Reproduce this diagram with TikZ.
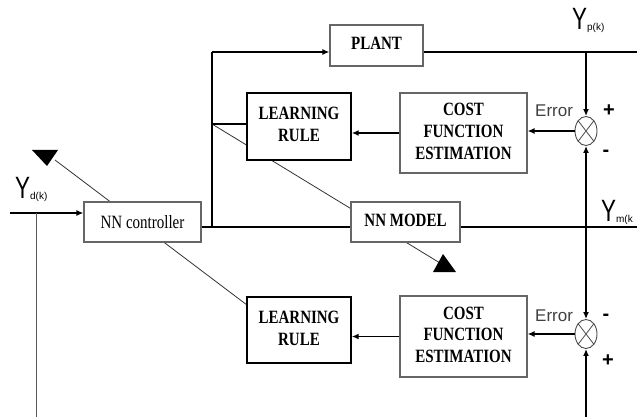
\documentclass[tikz,border=0pt]{standalone}
\usepackage{fontspec}
\setmainfont{Liberation Serif}
\setsansfont{Liberation Sans}
\usetikzlibrary{arrows.meta,backgrounds,shapes.geometric}
\newcommand{\blbl}[1]{\scalebox{1}[1.25]{\fontsize{15}{17.5}\selectfont\bfseries\begin{tabular}{@{}c@{}}#1\end{tabular}}}
\newcommand{\ylbl}[2]{\scalebox{0.8}[1.1]{\fontsize{28}{30}\selectfont\sffamily Y}\raisebox{-1pt}{\fontsize{10}{11}\selectfont\sffamily #2}}
\begin{document}
\begin{tikzpicture}[x=1pt,y=-1pt,
  graybox/.style={draw=black!60, line width=1.1pt, fill=white, inner sep=0pt},
  blackbox/.style={draw=black, line width=1.4pt, fill=white, inner sep=0pt},
  sumnode/.style={ellipse, draw=black!70, line width=0.9pt, fill=white, minimum width=22pt, minimum height=29pt, inner sep=0pt},
  sig/.style={line width=1.5pt},
  bus/.style={line width=2.6pt},
  thinline/.style={line width=0.9pt, black!65},
  arr/.style={-{Latex[length=7pt,width=6pt]}},
  diag/.style={line width=0.8pt, black!80},
  lab/.style={inner sep=0pt, anchor=west},
  pm/.style={inner sep=0pt, font=\fontsize{20}{20}\selectfont\sffamily\bfseries}]
\useasboundingbox (0,0) rectangle (637,417);

% nodes
\node[graybox, minimum width=93pt, minimum height=41pt] (plant) at (376.5,45.5) {\blbl{PLANT}};
\node[blackbox, minimum width=104pt, minimum height=67pt] (lr1) at (299,126.5) {\blbl{LEARNING\\RULE}};
\node[graybox, minimum width=127pt, minimum height=80pt] (cf1) at (463.5,133) {\blbl{COST\\FUNCTION\\ESTIMATION}};
\node[graybox, minimum width=117pt, minimum height=40pt] (nnc) at (142.5,222) {\scalebox{1}[1.25]{\fontsize{15}{17}\selectfont NN controller}};
\node[graybox, minimum width=109pt, minimum height=40pt] (nnm) at (405.5,222) {\blbl{NN MODEL}};
\node[blackbox, minimum width=104pt, minimum height=66pt] (lr2) at (299,330) {\blbl{LEARNING\\RULE}};
\node[graybox, minimum width=127pt, minimum height=81pt] (cf2) at (463.5,336.5) {\blbl{COST\\FUNCTION\\ESTIMATION}};
\node[sumnode] (s1) at (586,131) {};
\node[sumnode] (s2) at (586,334) {};
\draw[black!70, line width=0.8pt] (s1.north west) -- (s1.south east) (s1.north east) -- (s1.south west);
\draw[black!70, line width=0.8pt] (s2.north west) -- (s2.south east) (s2.north east) -- (s2.south west);

% coordinates
\coordinate (yd) at (10,213);
\coordinate (ydd) at (36,213);
\coordinate (ydb) at (36,417);
\coordinate (split) at (212,227);
\coordinate (top) at (212,52);
\coordinate (lrj) at (212,124);
\coordinate (pout) at (637,52);
\coordinate (ptap) at (586,52);
\coordinate (mout) at (637,227);
\coordinate (mtap) at (586,227);
\coordinate (bot) at (586,417);
\coordinate (d1end) at (440,263);
\coordinate (d2start) at (247,305);
\coordinate (d2end) at (55,160);

% diagonals behind boxes
\begin{scope}[on background layer]
\draw[diag] (lrj) -- (d1end);
\draw[diag] (d2start) -- (d2end);
\end{scope}
\fill[black] (433,272) -- (456,272) -- (443,254) -- cycle;
\fill[black] (32,150) -- (58,150) -- (47,166) -- cycle;

% connectors
\draw[sig, arr] (yd) -- (yd -| nnc.west);
\draw[thinline] (ydd) -- (ydb);
\draw[sig] (split -| nnc.east) -- (split -| nnm.west);
\draw[sig] (split) -- (top);
\draw[bus] (top) -- ([xshift=-6pt]top -| plant.west);
\draw[sig, arr] ([xshift=-7pt]top -| plant.west) -- (top -| plant.west);
\draw[sig] (lrj) -- (lrj -| lr1.west);
\draw[bus] (top -| plant.east) -- (pout);
\draw[bus] (split -| nnm.east) -- (mout);
\draw[sig, arr] (ptap) -- (s1.north);
\draw[sig, arr] (mtap) -- (s1.south);
\draw[sig, arr] (mtap) -- (s2.north);
\draw[sig, arr] (bot) -- (s2.south);
\draw[sig, arr] (s1.west) -- (s1.west -| cf1.east);
\draw[sig, arr] (cf1.west) -- (cf1.west -| lr1.east);
\draw[sig, arr] (s2.west) -- (s2.west -| cf2.east);
\draw[sig, arr] (cf2.west) -- (cf2.west -| lr2.east);

% labels
\node[lab] (lyp) at (572,20) {\ylbl{Y}{p(k)}};
\node[lab] (lym) at (601,212) {\ylbl{Y}{m(k}};
\node[lab] (lyd) at (15,189) {\ylbl{Y}{d(k)}};
\node[lab, font=\fontsize{17}{17}\selectfont\sffamily, text=black!75] (e1) at (535,111) {Error};
\node[lab, font=\fontsize{17}{17}\selectfont\sffamily, text=black!75] (e2) at (535,316) {Error};
\node[pm] (p1) at (609,111) {+};
\node[pm] (m1) at (606,153) {-};
\node[pm] (m2) at (606,317) {-};
\node[pm] (p2) at (608,361) {+};
\end{tikzpicture}
\end{document}
